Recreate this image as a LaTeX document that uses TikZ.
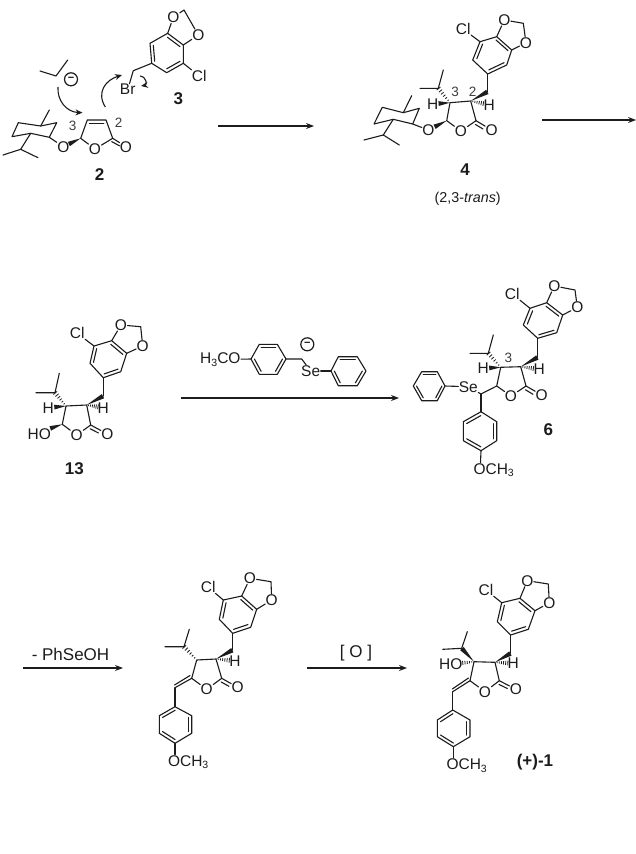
\documentclass[tikz,border=0pt]{standalone}
\usepackage{fontspec}
\setmainfont{Liberation Sans}
\usetikzlibrary{arrows.meta,calc}
\definecolor{ink}{HTML}{1c1c1c}
\newcommand{\lowered}[1]{\raisebox{-2.4pt}{\fontsize{10.5}{10.5}\selectfont #1}}
\tikzset{
  bond/.style={line width=1.1pt,draw=ink,line join=round,line cap=round},
  dbl/.style={line width=1.1pt,draw=ink,line cap=round},
  atom/.style={font=\fontsize{15.5}{15.5}\selectfont,text=ink,inner sep=0.3pt},
  num/.style={font=\fontsize{13.5}{14}\selectfont,text=ink!85,inner sep=0pt},
  cpd/.style={font=\bfseries\fontsize{17}{17}\selectfont,text=ink,inner sep=0pt},
  rxn/.style={line width=1.1pt,draw=ink,-{Stealth[length=8pt,width=6pt]}},
  push/.style={line width=1.1pt,draw=ink,-{Stealth[length=7pt,width=6pt]}},
  minus/.style={circle,draw=ink,line width=1.2pt,minimum size=13pt,inner sep=0pt,font=\bfseries\fontsize{11}{11}\selectfont,text=ink},
  rxnlabel/.style={font=\fontsize{17}{17}\selectfont,text=ink,inner sep=0pt}
}
\newcommand{\hexring}[7]{%
  \coordinate (#1a) at #2; \coordinate (#1b) at #3; \coordinate (#1c) at #4;
  \coordinate (#1d) at #5; \coordinate (#1e) at #6; \coordinate (#1f) at #7;
  \coordinate (#1x) at ($(#1a)!0.5!(#1d)$);
  \draw[bond] (#1a)--(#1b)--(#1c)--(#1d)--(#1e)--(#1f)--cycle;
  \draw[dbl] ($(#1a)!0.2!(#1x)$)--($(#1b)!0.2!(#1x)$);
  \draw[dbl] ($(#1c)!0.2!(#1x)$)--($(#1d)!0.2!(#1x)$);
  \draw[dbl] ($(#1e)!0.2!(#1x)$)--($(#1f)!0.2!(#1x)$);
}
% solid wedge from #2 (narrow) towards #3, covering fraction #1
\newcommand{\wedgeb}[3][0.98]{%
  \fill[ink] (#2) -- ($(#2)!#1!(#3)!2.4pt!90:(#3)$) -- ($(#2)!#1!(#3)!2.4pt!-90:(#3)$) -- cycle;
}
% hashed wedge from #2 towards #3
\newcommand{\hashb}[3][0.98]{%
  \foreach \i in {1,...,6}{%
    \pgfmathsetmacro{\t}{#1*\i/6}\pgfmathsetmacro{\w}{0.4+2.0*\i/6}%
    \draw[line width=0.8pt,draw=ink] ($(#2)!\t!(#3)!\w pt!90:(#3)$) -- ($(#2)!\t!(#3)!\w pt!-90:(#3)$);
  }%
}
\begin{document}
\begin{tikzpicture}[x=1pt,y=-1pt]
\path[use as bounding box,fill=white] (0,0) rectangle (636,854);

% ---------- compound 2
\coordinate (ma) at (18.3,122.7); \coordinate (mb) at (40.7,126); \coordinate (mc) at (56.7,122.7);
\coordinate (md) at (49.3,137.3); \coordinate (me) at (30.7,133.3); \coordinate (mf) at (12,136.7);
\coordinate (mme) at (49.3,110);
\coordinate (mi) at (20.7,149.3); \coordinate (mj) at (3,155); \coordinate (mk) at (38,157.7);
\draw[bond] (ma)--(mb)--(mc)--(md)--(me)--(mf)--cycle;
\draw[bond] (mb)--(mme);
\draw[bond] (me)--(mi)--(mj); \draw[bond] (mi)--(mk);
\node[atom] (mO) at (63.3,146.7) {O};
\draw[bond] (md)--(mO);
\coordinate (bC3) at (80.7,138.3); \coordinate (bC4) at (87.3,120); \coordinate (bC5) at (106,120); \coordinate (bC1) at (112.7,138.3);
\node[atom] (bO) at (95,149) {O};
\node[atom] (bOx) at (126,146.7) {O};
\wedgeb[0.68]{bC3}{mO}
\draw[bond] (bC3)--(bC4)--(bC5)--(bC1)--(bO)--(bC3);
\coordinate (bd1) at (89.5,123.6); \coordinate (bd2) at (103.8,123.6);
\draw[dbl] (bd1)--(bd2);
\coordinate (bq2) at (111.7,141.6); \coordinate (bq3) at (119.5,145.8);
\draw[bond] (bC1)--(bOx);
\draw[dbl] (bq2)--(bq3);
\node[num] (n23) at (72.7,126) {3};
\node[num] (n22) at (118.7,122.3) {2};
\node[cpd] (c2) at (99.5,175) {2};
% isobutyl anion and pushes
\coordinate (ua) at (40,71); \coordinate (ub) at (56,76); \coordinate (uc) at (67.7,60);
\draw[bond] (ua)--(ub)--(uc);
\node[minus] (um) at (71,79.3) {−};
\coordinate (p1a) at (58,87); \coordinate (p1b) at (82.5,112.7);
\draw[push] (p1a) .. controls (57,100) and (66,112) .. (p1b);
\coordinate (p2a) at (105.3,107); \coordinate (p2b) at (122,75);
\draw[push] (p2a) .. controls (96,92) and (106,80) .. (p2b);
% compound 3
\hexring{r}{(183.3,63.3)}{(166.7,72.7)}{(151.7,63.3)}{(150,43.3)}{(167.7,33.3)}{(183.3,45)}
\node[atom] (rO1) at (173.3,17.3) {O};
\coordinate (rCH) at (184,10);
\node[atom] (rO2) at (198.3,35) {O};
\draw[bond] (re)--(rO1)--(rCH)--(rO2)--(rf);
\node[atom] (rCl) at (199.3,76) {Cl};
\draw[bond] (ra)--(rCl);
\coordinate (rM) at (133.3,70.7);
\node[atom] (rBr) at (127.7,89.5) {Br};
\draw[bond] (rc)--(rM)--(rBr);
\coordinate (p3a) at (140,76); \coordinate (p3b) at (141,86);
\draw[push] (p3a) .. controls (147,77) and (147,85) .. (p3b);
\node[cpd] (c3) at (178.3,99) {3};
% arrow 1
\coordinate (a1a) at (218,126); \coordinate (a1b) at (314,126);
\draw[rxn] (a1a)--(a1b);
% ---------- compound 4
\hexring{d}{(480,41.7)}{(472.7,60)}{(487.7,74)}{(506.7,65)}{(511.7,50)}{(496.7,36.7)}
\node[atom] (dO1) at (504.3,20) {O};
\coordinate (dCH) at (523.3,23.3);
\node[atom] (dO2) at (526,42.7) {O};
\draw[bond] (df)--(dO1)--(dCH)--(dO2)--(de);
\node[atom] (dCl) at (463.3,29.3) {Cl};
\draw[bond] (da)--(dCl);
\coordinate (dM) at (487.7,91.7); \coordinate (dC2) at (470.7,101); \coordinate (dC3) at (450,102.7);
\coordinate (dC5) at (446.7,120.7); \coordinate (dC1) at (476,120.7);
\node[atom] (dO) at (461,131) {O};
\node[atom] (dOx) at (491.7,130) {O};
\node[atom] (dOm) at (428.3,130) {O};
\node[atom] (dH3) at (432.7,104) {H};
\node[atom] (dH2) at (489.3,104.7) {H};
\draw[bond] (dc)--(dM);
\wedgeb{dC2}{dM}
\draw[bond] (dC2)--(dC3)--(dC5)--(dO)--(dC1)--(dC2);
\draw[bond] (dC1)--(dOx);
\coordinate (dq2) at (475.5,124.5); \coordinate (dq3) at (483,129);
\draw[dbl] (dq2)--(dq3);
\wedgeb[0.66]{dC3}{dH3}
\hashb[0.68]{dC2}{dH2}
\wedgeb[0.66]{dC5}{dOm}
\coordinate (di) at (438.3,88.3); \coordinate (dj) at (420,88.3); \coordinate (dk) at (443.3,70);
\hashb{dC3}{di}
\draw[bond] (dj)--(di)--(dk);
\coordinate (ea) at (382.3,107.3); \coordinate (eb) at (403.3,112.7); \coordinate (ec) at (419.3,108.3);
\coordinate (ed) at (412.7,124); \coordinate (ee) at (393.3,119.3); \coordinate (ef) at (374,124);
\coordinate (eme) at (411.7,95.7);
\coordinate (ei) at (383.3,135); \coordinate (ej) at (364,140); \coordinate (ek) at (399.3,145);
\draw[bond] (ea)--(eb)--(ec)--(ed)--(ee)--(ef)--cycle;
\draw[bond] (eb)--(eme);
\draw[bond] (ee)--(ei)--(ej); \draw[bond] (ei)--(ek);
\draw[bond] (ed)--(dOm);
\node[num] (n43) at (455,91.7) {3};
\node[num] (n42) at (472.7,91.7) {2};
\node[cpd] (c4) at (465,170) {4};
\node[font=\fontsize{14.3}{15}\selectfont,text=ink,inner sep=0pt] (c4t) at (467.7,199) {(2,3-\textit{trans})};
\coordinate (a2a) at (542,120); \coordinate (a2b) at (636,120);
\draw[rxn] (a2a)--(a2b);
% ---------- compound 13
\hexring{g}{(94,346)}{(90,363.3)}{(103.3,377.7)}{(120.7,371.7)}{(126.7,353.3)}{(111.7,340.7)}
\node[atom] (gO1) at (121,325) {O};
\coordinate (gCH) at (140.7,326.7);
\node[atom] (gO2) at (142.7,346) {O};
\draw[bond] (gf)--(gO1)--(gCH)--(gO2)--(ge);
\node[atom] (gCl) at (77.3,333.3) {Cl};
\draw[bond] (ga)--(gCl);
\coordinate (gM) at (103.3,396); \coordinate (gC2) at (86.7,405); \coordinate (gC3) at (66,406);
\coordinate (gC5) at (62.3,424.3); \coordinate (gC1) at (90.7,425);
\node[atom] (gO) at (76.7,435) {O};
\node[atom] (gOx) at (107.3,434) {O};
\node[atom] (gHO) at (39.3,434) {HO};
\node[atom] (gH3) at (48.3,407.7) {H};
\node[atom] (gH2) at (103.3,407.7) {H};
\draw[bond] (gc)--(gM);
\wedgeb{gC2}{gM}
\draw[bond] (gC2)--(gC3)--(gC5)--(gO)--(gC1)--(gC2);
\draw[bond] (gC1)--(gOx);
\coordinate (gq2) at (90.2,428.8); \coordinate (gq3) at (98.5,433);
\draw[dbl] (gq2)--(gq3);
\wedgeb[0.66]{gC3}{gH3}
\hashb[0.68]{gC2}{gH2}
\coordinate (gHOe) at (50,428.5);
\wedgeb{gC5}{gHOe}
\coordinate (gi) at (55,392.7); \coordinate (gj) at (36,392.7); \coordinate (gk) at (59.3,373.3);
\hashb{gC3}{gi}
\draw[bond] (gj)--(gi)--(gk);
\node[cpd] (c13) at (74.3,468.3) {13};
% reagent
\hexring{h}{(259.3,344.3)}{(277.3,344.3)}{(286,359)}{(277.3,374.3)}{(259.3,374.3)}{(251,359)}
\node[atom,anchor=east] (hOMe) at (241,359.5) {H\lowered{3}CO};
\draw[bond] (hf)--(hOMe);
\coordinate (hM) at (301.7,359);
\node[atom] (hSe) at (310.7,371) {Se};
\draw[bond] (hc)--(hM)--(hSe);
\hexring{i}{(338.3,356.7)}{(357.3,356.7)}{(366,371)}{(357.3,385.7)}{(338.3,385.7)}{(331,371)}
\draw[bond] (hSe)--(if);
\node[minus] (hm) at (307.3,344.3) {−};
\coordinate (a3a) at (181,398); \coordinate (a3b) at (399,398);
\draw[rxn] (a3a)--(a3b);
% ---------- compound 6
\hexring{j}{(530,308.3)}{(523.3,325)}{(537.7,338.3)}{(556.7,332.7)}{(562.7,315)}{(546.7,302.7)}
\node[atom] (jO1) at (554.3,286) {O};
\coordinate (jCH) at (575,290);
\node[atom] (jO2) at (577.3,307.3) {O};
\draw[bond] (jf)--(jO1)--(jCH)--(jO2)--(je);
\node[atom] (jCl) at (512.3,294) {Cl};
\draw[bond] (ja)--(jCl);
\coordinate (jM) at (537.7,357.3); \coordinate (jC2) at (520.7,366.7); \coordinate (jC3) at (500.7,367.3);
\coordinate (jC5) at (496.7,386); \coordinate (jC1) at (526,386);
\node[atom] (jO) at (511,396) {O};
\node[atom] (jOx) at (541.7,395) {O};
\node[atom] (jH3) at (483.3,368.3) {H};
\node[atom] (jH2) at (539.3,369.3) {H};
\draw[bond] (jc)--(jM);
\wedgeb{jC2}{jM}
\draw[bond] (jC2)--(jC3)--(jC5)--(jO)--(jC1)--(jC2);
\draw[bond] (jC1)--(jOx);
\coordinate (jq2) at (525.5,389.8); \coordinate (jq3) at (533,394.3);
\draw[dbl] (jq2)--(jq3);
\wedgeb[0.66]{jC3}{jH3}
\hashb[0.68]{jC2}{jH2}
\coordinate (ji) at (488.3,353.3); \coordinate (jj) at (470,353.3); \coordinate (jk) at (493.3,335);
\hashb{jC3}{ji}
\draw[bond] (jj)--(ji)--(jk);
\node[num] (n63) at (508.3,358.3) {3};
\coordinate (jCH2) at (481,394);
\draw[bond] (jC5)--(jCH2);
\node[atom] (jSe) at (468.3,386.7) {Se};
\draw[bond] (jCH2)--(jSe);
\hexring{k}{(421.7,371.7)}{(437.3,371.7)}{(445,386)}{(437.3,400.7)}{(421.7,400.7)}{(413.3,386)}
\draw[bond] (jSe)--(kc);
\hexring{l}{(496.7,421.7)}{(496.7,440.7)}{(481,450.7)}{(463.3,440.7)}{(463.3,421.7)}{(481,411.7)}
\draw[bond] (jCH2)--(lf);
\node[atom,anchor=west] (lOMe) at (473,470) {OCH\lowered{3}};
\coordinate (lOe) at (480.5,462.5);
\draw[bond] (lc)--(lOe);
\node[cpd] (c6) at (548.3,430) {6};
% ---------- elimination
\node[rxnlabel] (t1) at (70.5,654) {- PhSeOH};
\coordinate (a4a) at (23,668); \coordinate (a4b) at (123,668);
\draw[rxn] (a4a)--(a4b);
% butenolide (no label)
\hexring{n}{(223.3,600)}{(219.3,619.3)}{(232.7,633.3)}{(250.7,627.3)}{(256.7,609.3)}{(241.7,596)}
\node[atom] (nO1) at (250,578.3) {O};
\coordinate (nCH) at (271,581.7);
\node[atom] (nO2) at (271.7,600) {O};
\draw[bond] (nf)--(nO1)--(nCH)--(nO2)--(ne);
\node[atom] (nCl) at (208.3,587.3) {Cl};
\draw[bond] (na)--(nCl);
\coordinate (nM) at (232.7,650); \coordinate (nC2) at (216,659); \coordinate (nC3) at (196.7,660);
\coordinate (nC5) at (191.7,678.3); \coordinate (nC1) at (221.7,678.3);
\node[atom] (nO) at (206.7,689.3) {O};
\node[atom] (nOx) at (237.7,687.3) {O};
\node[atom] (nH) at (235,660.7) {H};
\draw[bond] (nc)--(nM);
\wedgeb{nC2}{nM}
\draw[bond] (nC2)--(nC3)--(nC5)--(nO)--(nC1)--(nC2);
\draw[bond] (nC1)--(nOx);
\coordinate (nq2) at (221.2,682); \coordinate (nq3) at (229,686.3);
\draw[dbl] (nq2)--(nq3);
\hashb[0.7]{nC2}{nH}
\coordinate (ni) at (184,646.7); \coordinate (nj) at (165,646.7); \coordinate (nk) at (189.3,629.3);
\hashb{nC3}{ni}
\draw[bond] (nj)--(ni)--(nk);
\coordinate (nX) at (175,687.7); \coordinate (nX1) at (190,675.5); \coordinate (nX2) at (174.5,685);
\draw[bond] (nC5)--(nX);
\draw[dbl] (nX1)--(nX2);
\hexring{o}{(191.7,715.7)}{(191.7,733.3)}{(175,743.3)}{(159.3,733.3)}{(159.3,715.7)}{(175,706.7)}
\draw[bond] (nX)--(of);
\node[atom,anchor=west] (oOMe) at (167.5,762) {OCH\lowered{3}};
\coordinate (oOe) at (175,754.5);
\draw[bond] (oc)--(oOe);
% arrow
\node[rxnlabel] (t2) at (356,653) {[ O ]};
\coordinate (a5a) at (307,668); \coordinate (a5b) at (407,668);
\draw[rxn] (a5a)--(a5b);
% ---------- (+)-1
\hexring{p}{(501.7,602.7)}{(497.3,621.7)}{(510.7,635)}{(528.3,629.3)}{(535,610.7)}{(520,598.3)}
\node[atom] (pO1) at (527.3,580.7) {O};
\coordinate (pCH) at (548.3,584);
\node[atom] (pO2) at (549.3,602.7) {O};
\draw[bond] (pf)--(pO1)--(pCH)--(pO2)--(pe);
\node[atom] (pCl) at (486,590) {Cl};
\draw[bond] (pa)--(pCl);
\coordinate (pM) at (510.7,653.3); \coordinate (pC2) at (495,662.3); \coordinate (pC3) at (474,661.7);
\coordinate (pC5) at (470,680.7); \coordinate (pC1) at (499.3,680.7);
\node[atom] (pO) at (485,691.7) {O};
\node[atom] (pOx) at (516,689.3) {O};
\node[atom] (pH) at (513.3,663.3) {H};
\node[atom] (pHO) at (450.7,664.3) {HO};
\draw[bond] (pc)--(pM);
\wedgeb{pC2}{pM}
\draw[bond] (pC2)--(pC3)--(pC5)--(pO)--(pC1)--(pC2);
\draw[bond] (pC1)--(pOx);
\coordinate (pq2) at (499,684.4); \coordinate (pq3) at (507.3,688.5);
\draw[dbl] (pq2)--(pq3);
\hashb[0.7]{pC2}{pH}
\hashb[0.58]{pC3}{pHO}
\coordinate (pi) at (461.7,648.3); \coordinate (pj) at (442.7,649.3); \coordinate (pk) at (467.3,631.7);
\wedgeb{pC3}{pi}
\draw[bond] (pj)--(pi)--(pk);
\coordinate (pX) at (452.7,691.7); \coordinate (pX1) at (468.5,678); \coordinate (pX2) at (452.3,689);
\draw[bond] (pC5)--(pX);
\draw[dbl] (pX1)--(pX2);
\hexring{q}{(470,720)}{(470,736.7)}{(453.3,746.7)}{(437.3,736.7)}{(437.3,720)}{(452.7,710)}
\draw[bond] (pX)--(qf);
\node[atom,anchor=west] (qOMe) at (446,765.5) {OCH\lowered{3}};
\coordinate (qOe) at (453.3,758);
\draw[bond] (qc)--(qOe);
\node[cpd] (c1) at (535,762.3) {(+)-1};
\end{tikzpicture}
\end{document}
